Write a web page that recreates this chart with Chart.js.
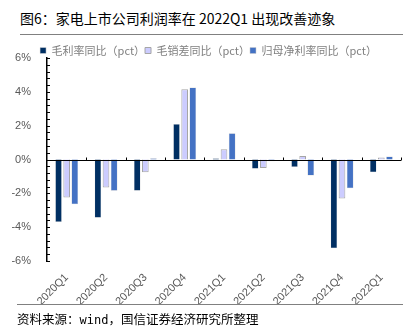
<!DOCTYPE html>
<html>
<head>
<meta charset="utf-8">
<script src="https://cdn.jsdelivr.net/npm/chart.js@4/dist/chart.umd.min.js"></script>
<style>
  body { margin: 0; width: 413px; height: 332px; background: #fff; position: relative; overflow: hidden; }
  #title { position: absolute; left: 20px; top: 8px; font: 14px "Noto Sans CJK SC", sans-serif; color: #000; white-space: nowrap; }
  #rule1 { position: absolute; left: 20px; top: 34px; width: 383px; height: 0; border-top: 1.5px solid #808080; }
  #rule2 { position: absolute; left: 17px; top: 304px; width: 386px; height: 0; border-top: 1.5px solid #808080; }
  #source { position: absolute; left: 17px; top: 309px; font: 12.5px "Noto Sans CJK SC", sans-serif; color: #000; white-space: nowrap; }
  #source span { font-family: "DejaVu Sans Mono", monospace; font-size: 12px; }
  #wrap { position: absolute; left: 0; top: 37px; width: 413px; height: 268px; }
</style>
</head>
<body>
<div id="title">图6：家电上市公司利润率在 2022Q1 出现改善迹象</div>
<div id="rule1"></div>
<div id="wrap"><canvas id="grafico" width="413" height="268"></canvas></div>
<div id="rule2"></div>
<div id="source">资料来源：<span>wind</span>，国信证券经济研究所整理</div>
<script>
let ctx = document.getElementById('grafico')

// dados
const quarters = ['2020Q1', '2020Q2', '2020Q3', '2020Q4', '2021Q1', '2021Q2', '2021Q3', '2021Q4', '2022Q1']
const grossMargin = [-3.7, -3.45, -1.85, 2.1, 0.08, -0.55, -0.45, -5.25, -0.75]
const salesExpense = [-2.25, -1.65, -0.75, 4.15, 0.6, -0.5, 0.2, -2.3, 0.12]
const netMargin = [-2.65, -1.85, 0.08, 4.25, 1.55, -0.1, -0.95, -1.7, 0.17]
const yTicks = [-6, -4, -2, 0, 2, 4, 6]

Chart.defaults.font.family = '"Liberation Sans", Arial, sans-serif'
Chart.defaults.color = '#595959'

// altura fixa da legenda, um pouco deslocada para a direita
const legendFit = {
  id: 'legendFit',
  beforeInit(chart) {
    const lg = chart.legend
    if (!lg) return
    const fit = lg.fit
    lg.fit = function () { fit.call(this); this.height = 13 }
  },
  afterLayout(chart) {
    const lg = chart.legend
    if (!lg) return
    lg.left += 8
    lg.right += 8
  }
}

// linha do zero, marcas do eixo y e das categorias
const axisMarks = {
  id: 'axisMarks',
  afterDatasetsDraw(chart) {
    const { ctx, scales: { x, y }, chartArea } = chart
    ctx.save()
    ctx.strokeStyle = '#000'
    ctx.lineWidth = 1
    const y0 = Math.round(y.getPixelForValue(0)) + 0.5
    ctx.beginPath()
    ctx.moveTo(chartArea.left, y0)
    ctx.lineTo(chartArea.right, y0)
    // category boundaries
    for (let i = 0; i < quarters.length; i++) {
      const xb = Math.round(x.getPixelForValue(i) + (x.getPixelForValue(1) - x.getPixelForValue(0)) / 2) + 0.5
      ctx.moveTo(xb, y0)
      ctx.lineTo(xb, y0 - 3)
    }
    // minor ticks every 0.4
    for (let i = 0; i <= 30; i++) {
      const yy = Math.round(y.getPixelForValue(-6 + i * 0.4)) + 0.5
      ctx.moveTo(chartArea.left, yy)
      ctx.lineTo(chartArea.left + 3, yy)
    }
    ctx.stroke()
    ctx.restore()
  }
}

const data = {
  labels: quarters,
  datasets: [
    { label: '毛利率同比（pct）', data: grossMargin, backgroundColor: '#002f63', borderColor: '#dddddd', borderWidth: 0.5 },
    { label: '毛销差同比（pct）', data: salesExpense, backgroundColor: '#ccccff', borderColor: '#a6a6a6', borderWidth: 1 },
    { label: '归母净利率同比（pct）', data: netMargin, backgroundColor: '#4472c4', borderColor: '#c8c8c8', borderWidth: 0.5 }
  ]
}

const config = {
  type: 'bar',
  data,
  options: {
    responsive: false,
    animation: false,
    devicePixelRatio: 1,
    categoryPercentage: 0.62,
    barPercentage: 0.82,
    layout: { padding: { left: 0, right: 12, top: 8, bottom: 0 } },
    plugins: {
      legend: {
        position: 'top',
        labels: {
          boxWidth: 6,
          boxHeight: 6,
          padding: 0,
          color: '#7f7f7f',
          font: { size: 11, family: '"Noto Sans CJK SC", sans-serif' }
        }
      },
      tooltip: { enabled: false }
    },
    scales: {
      x: {
        grid: { display: false },
        border: { display: false },
        ticks: { minRotation: 45, maxRotation: 45, padding: 2, font: { size: 11 }, color: '#595959' },
        afterFit(scale) { scale.height = 44 }
      },
      y: {
        min: -6,
        max: 6,
        grid: { display: false },
        border: { display: true, color: '#000', width: 1.5 },
        afterBuildTicks(scale) { scale.ticks = yTicks.map(v => ({ value: v })) },
        ticks: { padding: 8, font: { size: 11 }, color: '#595959', callback: v => v + '%' },
        afterFit(scale) { scale.width = 47 }
      }
    }
  },
  plugins: [legendFit, axisMarks]
}

const graph = new Chart(ctx, config)
</script>
</body>
</html>
